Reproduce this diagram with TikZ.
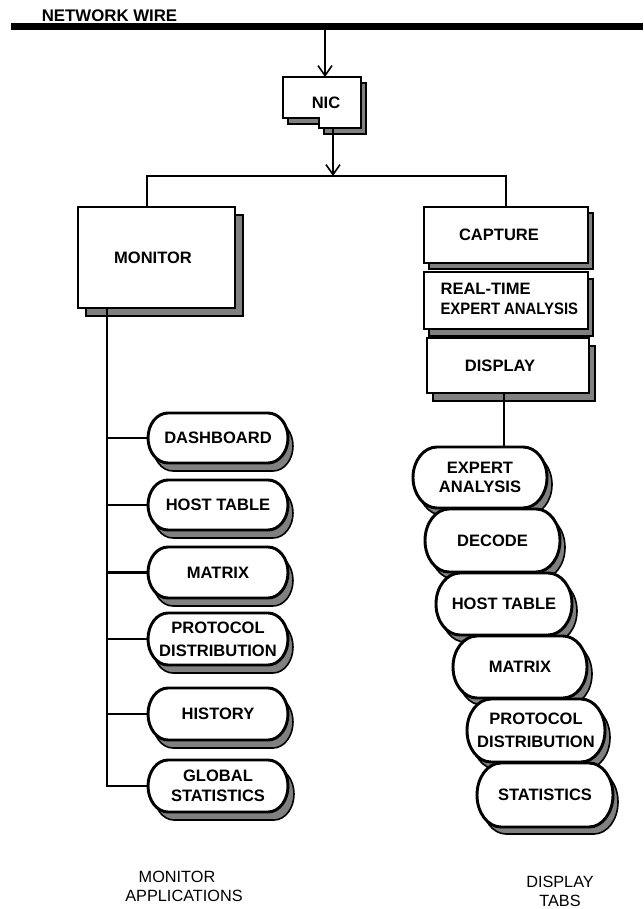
\documentclass[tikz,border=0pt]{standalone}
\usepackage{fontspec}
\setmainfont{Liberation Sans}
\usepackage{graphicx}
\usetikzlibrary{arrows.meta}
\definecolor{shadowgray}{RGB}{128,128,128}
\newcommand{\dgfont}{\bfseries\fontsize{12.4}{14.6}\selectfont}
\tikzset{
  conn/.style={line width=2.2pt},
  arr/.style={line width=1.2pt, -{Straight Barb[length=7.5pt,width=10.5pt,line width=1.2pt]}},
  wireline/.style={line width=5.25pt},
  boxshadow/.style={fill=shadowgray, draw=black, line width=1.2pt},
  boxbody/.style={draw=black, fill=white, line width=2.2pt},
  boxnode/.style={draw=black, fill=white, line width=2.2pt, font=\dgfont, inner sep=0pt, outer sep=0pt, align=center},
  pilltext/.style={font=\dgfont, inner sep=0pt, outer sep=0pt, align=center},
  capt/.style={font=\fontsize{12.2}{14}\selectfont, inner sep=0pt, outer sep=0pt}
}
% rectangle box with shadow: name cx cy w h sx sy text
\newcommand{\dgbox}[8]{%
  \path[boxshadow] ({#2-#4/2+#6},{#3-#5/2+#7}) rectangle ({#2+#4/2+#6},{#3+#5/2+#7});
  \node[boxnode, minimum width={#4*0.75pt}, minimum height={#5*0.75pt}] (#1) at (#2,#3) {#8};
}
% pill with elliptical ends and shadow: name cx cy w h rx text shadowshift
\newcommand{\dgpill}[8]{%
  \pgfmathsetmacro{\pxa}{#2-#4/2}\pgfmathsetmacro{\pxb}{#2+#4/2}%
  \pgfmathsetmacro{\pya}{#3-#5/2}\pgfmathsetmacro{\pyb}{#3+#5/2}%
  \pgfmathsetmacro{\pxc}{\pxa+#6}\pgfmathsetmacro{\pxd}{\pxb-#6}%
  \pgfmathsetmacro{\pkx}{0.5523*#6}\pgfmathsetmacro{\pky}{0.5523*#5/2}%
  \def\pillshape{(\pxc,\pya) -- (\pxd,\pya) .. controls ({\pxd+\pkx},\pya) and (\pxb,{#3-\pky}) .. (\pxb,#3) .. controls (\pxb,{#3+\pky}) and ({\pxd+\pkx},\pyb) .. (\pxd,\pyb) -- (\pxc,\pyb) .. controls ({\pxc-\pkx},\pyb) and (\pxa,{#3+\pky}) .. (\pxa,#3) .. controls (\pxa,{#3-\pky}) and ({\pxc-\pkx},\pya) .. cycle}%
  \path[boxshadow, shift={#8}] \pillshape;
  \path[boxbody] \pillshape;
  \node[pilltext, minimum width={#4*0.75pt}, minimum height={#5*0.75pt}] (#1) at (#2,#3) {#7};
}
\begin{document}
\begin{tikzpicture}[x=0.75pt,y=-0.75pt]
\useasboundingbox (0,0) rectangle (643,909);
% network wire
\coordinate (wl) at (11,26.5);
\coordinate (wr) at (643,26.5);
\coordinate (tap) at (325,26.5);
\draw[wireline] (wl) -- (wr);
\node[pilltext, font=\bfseries\fontsize{12.6}{14}\selectfont] (netlabel) at (109.5,15.5) {NETWORK WIRE};
% NIC
\path[boxshadow, shift={(5,6)}] (283,77) -- (361,77) -- (361,128) -- (319,128) -- (319,118) -- (283,118) -- cycle;
\path[boxbody] (283,77) -- (361,77) -- (361,128) -- (319,128) -- (319,118) -- (283,118) -- cycle;
\node[pilltext, minimum width=58.5pt, minimum height=38.25pt] (nic) at (322,102.5) {\hspace*{6pt}NIC};
\draw[arr] (tap) -- (tap |- nic.north);
% main boxes
\dgbox{monitor}{156.5}{257.5}{157}{101}{8}{8}{\hspace*{-5.25pt}MONITOR}
\dgbox{capture}{506}{235}{164}{56}{5}{6}{\hspace*{-10.5pt}CAPTURE}
\dgbox{realtime}{506}{300.5}{164}{57}{5}{7}{\hspace*{5pt}\begin{tabular}{@{}l@{}}REAL-TIME\\\scalebox{0.9}[1]{EXPERT ANALYSIS}\end{tabular}}
\dgbox{display}{508}{365.5}{162}{55}{6}{8}{\hspace*{-12pt}DISPLAY}
% bus
\coordinate (bj) at (333,176);
\coordinate (lj) at (147,176);
\coordinate (rj) at (506,176);
\draw[arr] (nic.south -| bj) -- (bj);
\draw[conn] (monitor.north -| lj) -- (lj) -- (rj) -- (capture.north);
% left pills
\dgpill{dash}{218}{438}{140}{50}{20}{DASHBOARD}{(5,8)}
\dgpill{lhost}{218}{505}{140}{50}{20}{HOST TABLE}{(5,8)}
\dgpill{lmatrix}{218}{572.5}{140}{51}{20}{MATRIX}{(5,8)}
\dgpill{lproto}{218}{639}{140}{52}{20}{PROTOCOL\\[2.4pt]DISTRIBUTION}{(5,8)}
\dgpill{history}{218}{714}{140}{52}{20}{HISTORY}{(5,8)}
\dgpill{global}{218}{786}{140}{52}{20}{GLOBAL\\STATISTICS}{(6,8)}
% left trunk
\coordinate (lt) at (107,300);
\draw[conn] (monitor.south -| lt) -- (lt |- global.west) -- (global.west);
\foreach \n in {dash,lhost,lmatrix,lproto,history}{
  \draw[conn] (lt |- \n.west) -- (\n.west);
}
% right pills
\dgpill{expert}{480}{477.5}{134}{61}{24}{EXPERT\\ANALYSIS}{(5,7)}
\dgpill{decode}{492.5}{540.5}{135}{63}{24}{DECODE}{(5,7)}
\dgpill{rhost}{504}{604}{136}{62}{24}{HOST TABLE}{(5,7)}
\dgpill{rmatrix}{520}{667}{134}{62}{24}{MATRIX}{(5,7)}
\dgpill{rproto}{536}{730.5}{138}{63}{24}{PROTOCOL\\[2.4pt]DISTRIBUTION}{(5,7)}
\dgpill{stats}{545}{795}{136}{64}{24}{STATISTICS}{(5,7)}
\coordinate (rt) at (504,400);
\draw[conn] (display.south -| rt) -- (rt |- expert.north);
% captions
\node[capt] (cap1) at (177,877) {MONITOR};
\node[capt] (cap2) at (184,896) {APPLICATIONS};
\node[capt] (cap3) at (560,882) {DISPLAY};
\node[capt] (cap4) at (560,901) {TABS};
\end{tikzpicture}
\end{document}
